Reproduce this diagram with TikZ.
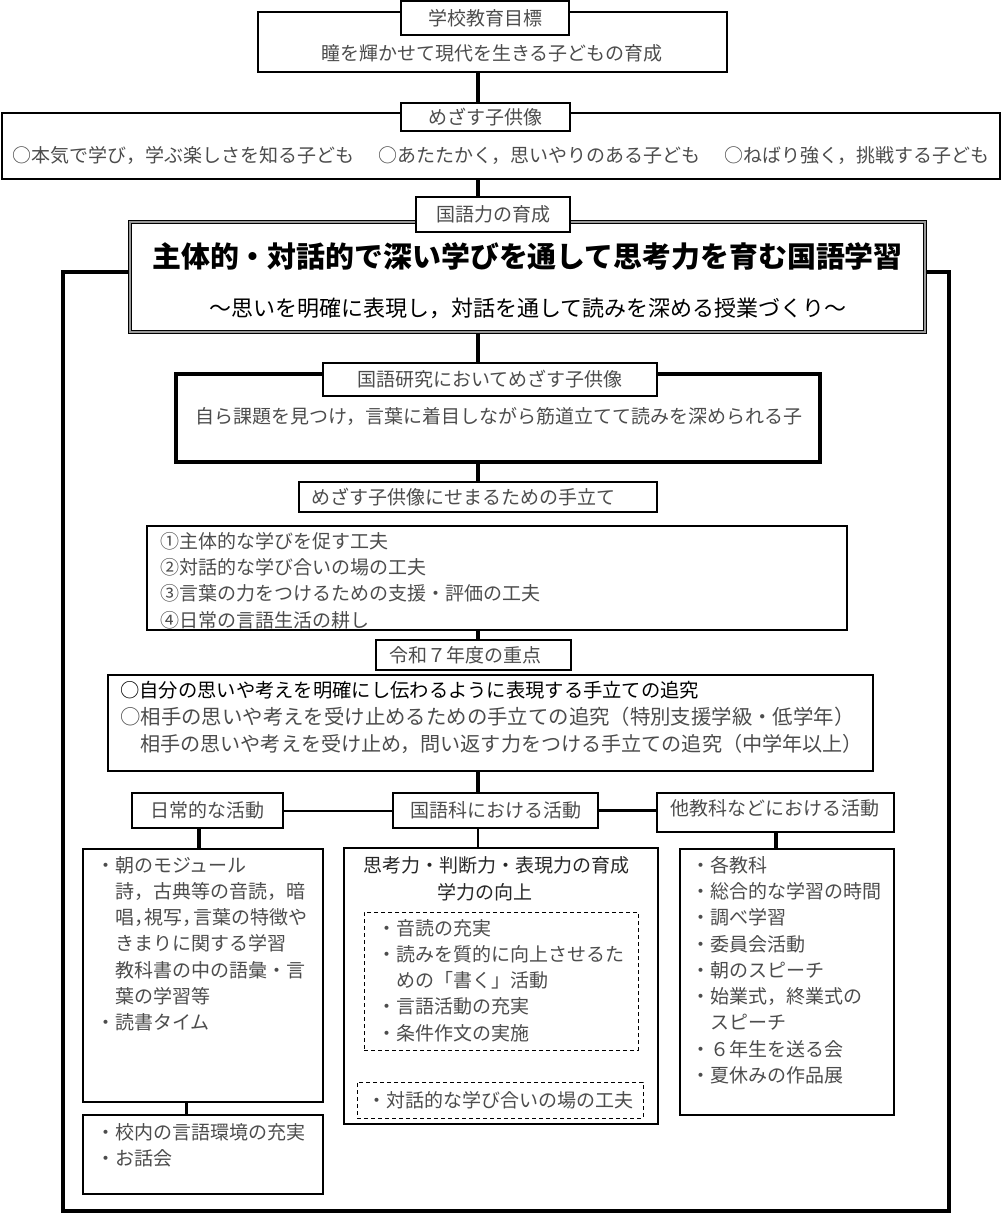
\documentclass[tikz,border=0pt]{standalone}
\usepackage{fontspec}
\setmainfont{Noto Sans CJK JP}
\tikzset{
  box/.style={draw, line width=1.2pt, inner sep=0pt},
  txt/.style={inner sep=0pt, text=black!70, font=\fontsize{19}{26.25}\selectfont},
  tag/.style={box, fill=white, txt},
  dashbox/.style={box, line width=1pt, dash pattern=on 4pt off 3pt},
  link/.style={line width=3.5pt},
  thin link/.style={line width=2pt},
}
\begin{document}
\begin{tikzpicture}[x=1pt, y=-1pt]
    \useasboundingbox (0,0) rectangle (1005,1224);
    \coordinate (trunk) at (478,0);
    \coordinate (dailyx) at (199,0);
    \coordinate (schoolx) at (186,0);
    \coordinate (otherx) at (776,0);
    % school goal
    \node[box, minimum width=469pt, minimum height=60pt] (goal) at (492.5,42) {};
    \node[tag, minimum width=168pt, minimum height=34pt] (goaltag) at (485,18) {学校教育目標};
    \node[txt] (goaltxt) at (492,53) {瞳を輝かせて現代を生きる子どもの育成};
    % children we aim for
    \node[box, minimum width=998pt, minimum height=66pt] (image) at (501,146) {};
    \node[tag, minimum width=169pt, minimum height=28pt] (imagetag) at (485.5,117) {めざす子供像};
    \node[txt] (imagetxt) at (501,155) {○本気で学び，学ぶ楽しさを知る子ども\hspace{1.25em}○あたたかく，思いやりのある子ども\hspace{1.25em}○ねばり強く，挑戦する子ども};
    \draw[link] (goal.south -| trunk) -- (imagetag.north -| trunk);
    % theme
    \node[draw, double=black!40, double distance=1.5pt, line width=1.5pt, inner sep=0pt, minimum width=795pt, minimum height=110pt] (kokugo) at (527.5,277) {};
    \node[tag, minimum width=154pt, minimum height=35pt] (kokugotag) at (493,214.5) {国語力の育成};
    \node[txt, text=black, font=\fontsize{28.9}{34}\selectfont\bfseries] (theme) at (527.5,257) {主体的・対話的で深い学びを通して思考力を育む国語学習};
    \node[txt, text=black, font=\fontsize{22}{27}\selectfont] (subtheme) at (528,308) {～思いを明確に表現し，対話を通して読みを深める授業づくり～};
    \draw[link] (image.south -| trunk) -- (kokugotag.north -| trunk);
    \draw[line width=4pt] ([yshift=5pt]kokugo.west) -| (63,1211) -| (949,272) -- ([yshift=5pt]kokugo.east);
    % research
    \node[draw, line width=4pt, inner sep=0pt, minimum width=644pt, minimum height=88pt] (kenkyu) at (498,418) {};
    \node[tag, minimum width=334pt, minimum height=33pt] (kenkyutag) at (490,379.5) {国語研究においてめざす子供像};
    \node[txt] (kenkyutxt) at (499,416) {自ら課題を見つけ，言葉に着目しながら筋道立てて読みを深められる子};
    \draw[link] (kokugo.south -| trunk) -- (kenkyutag.north -| trunk);
    % means
    \node[tag, minimum width=358pt, minimum height=30pt] (tedatetag) at (478,497) {};
    \node[txt, anchor=west] (tedatetxt) at (311,497) {めざす子供像にせまるための手立て};
    \draw[link] (kenkyu.south -| trunk) -- (tedatetag.north -| trunk);
    \node[box, minimum width=700pt, minimum height=104pt] (steps) at (497,578) {};
    \node[txt, anchor=north west, align=left] (stepstxt) at (160,532) {①主体的な学びを促す工夫\\②対話的な学び合いの場の工夫\\③言葉の力をつけるための支援・評価の工夫\\④日常の言語生活の耕し};
    % focus of the year
    \node[tag, minimum width=195pt, minimum height=30pt] (reiwatag) at (473.5,655) {};
    \node[txt, anchor=west] (reiwatxt) at (389,655) {令和７年度の重点};
    \draw[link] (steps.south -| trunk) -- (reiwatag.north -| trunk);
    \node[box, minimum width=765pt, minimum height=96pt] (juten) at (490.5,723) {};
    \node[txt, anchor=west, text=black, font=\fontsize{19.3}{24}\selectfont] (juten1) at (120,690) {○自分の思いや考えを明確にし伝わるように表現する手立ての追究};
    \node[txt, anchor=west, font=\fontsize{20.4}{24}\selectfont] (juten2) at (120,717) {○相手の思いや考えを受け止めるための手立ての追究（特別支援学級・低学年）};
    \node[txt, anchor=west, font=\fontsize{20.1}{24}\selectfont] (juten3) at (120,744) {　相手の思いや考えを受け止め，問い返す力をつける手立ての追究（中学年以上）};
    % activities
    \node[box, txt, minimum width=151pt, minimum height=35pt] (daily) at (207.5,810.5) {日常的な活動};
    \node[box, txt, minimum width=205pt, minimum height=35pt] (kokugoact) at (495.5,810.5) {国語科における活動};
    \node[box, minimum width=237pt, minimum height=39pt] (other) at (775.5,812.5) {};
    \node[txt] (othertxt) at (775,808) {他教科などにおける活動};
    \draw[link] (juten.south -| trunk) -- (kokugoact.north -| trunk);
    \draw[thin link] (daily.east) -- (kokugoact.west);
    \draw[link] (kokugoact.east) -- (kokugoact.east -| other.west);
    % daily activities
    \node[box, minimum width=240pt, minimum height=253pt] (dailylist) at (203,975.5) {};
    \node[txt, anchor=north west, align=left] (dailylisttxt) at (96,856) {・朝のモジュール\\　詩，古典等の音読，暗\\　唱，\kern-.45em 視写，\kern-.45em 言葉の特徴や\\　きまりに関する学習\\　教科書の中の語彙・言\\　葉の学習等\\・読書タイム};
    \draw[link] (daily.south -| dailyx) -- (dailylist.north -| dailyx);
    \node[box, minimum width=240pt, minimum height=79pt] (school) at (203,1154.5) {};
    \node[txt, anchor=north west, align=left] (schooltxt) at (96,1123) {・校内の言語環境の充実\\・お話会};
    \draw[link, line width=3pt] (dailylist.south -| schoolx) -- (school.north -| schoolx);
    % lessons
    \node[box, minimum width=314pt, minimum height=276pt] (lesson) at (501,986) {};
    \node[txt, text=black!85] (lessontitle) at (496,865) {思考力・判断力・表現力の育成};
    \node[txt, text=black!85] (lessonsub) at (485,892) {学力の向上};
    \node[dashbox, minimum width=274pt, minimum height=138pt] (lessonpts) at (501,981) {};
    \node[txt, anchor=north west, align=left] (lessonptstxt) at (377.5,919) {・音読の充実\\・読みを質的に向上させるた\\　めの「書く」活動\\・言語活動の充実\\・条件作文の実施};
    \node[dashbox, txt, minimum width=286pt, minimum height=36pt] (dialog) at (500,1100) {・対話的な学び合いの場の工夫};
    \draw[thin link] (kokugoact.south -| trunk) -- (lesson.north -| trunk);
    % other subjects
    \node[box, minimum width=214pt, minimum height=266pt] (otherlist) at (787,982) {};
    \node[txt, anchor=north west, align=left] (otherlisttxt) at (691.5,856) {・各教科\\・総合的な学習の時間\\・調べ学習\\・委員会活動\\・朝のスピーチ\\・始業式，終業式の\\　スピーチ\\・６年生を送る会\\・夏休みの作品展};
    \draw[link] (other.south -| otherx) -- (otherlist.north -| otherx);
\end{tikzpicture}
\end{document}
